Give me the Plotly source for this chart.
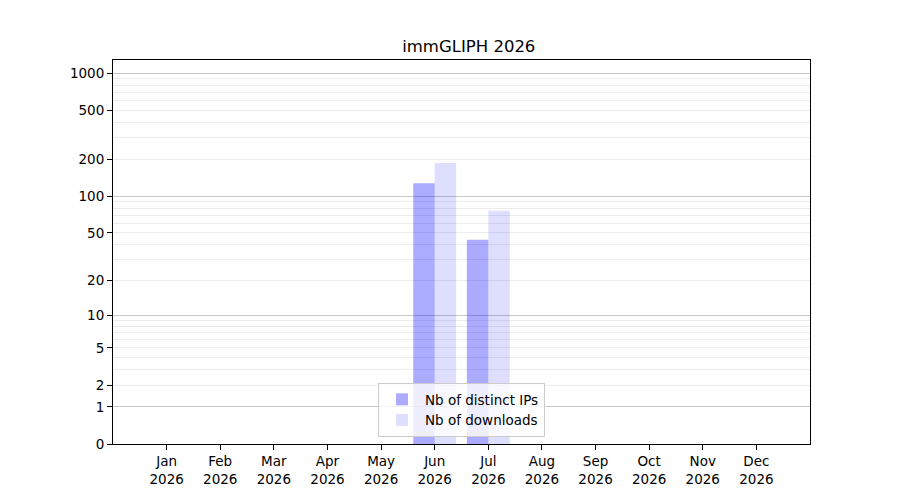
import numpy as np
import plotly.graph_objects as go

# monthly stats for immGLIPH
months = ["Jan", "Feb", "Mar", "Apr", "May", "Jun",
          "Jul", "Aug", "Sep", "Oct", "Nov", "Dec"]
year = "2026"
distinct_ips = [0, 0, 0, 0, 0, 128, 44, 0, 0, 0, 0, 0]
downloads = [0, 0, 0, 0, 0, 187, 76, 0, 0, 0, 0, 0]

# y scale is log10(1 + n)
y_labels = [0, 1, 2, 5, 10, 20, 50, 100, 200, 500, 1000]
y_major_grid = [1, 10, 100, 1000]
y_minor_grid = [v * d for d in (1, 10, 100) for v in range(2, 10)]


def tr(v):
    return np.log10(1 + np.asarray(v, dtype=float))


x = list(range(len(months)))
tick_text = [f"{m}<br>{year}" for m in months]

fig = go.Figure()
fig.add_trace(go.Bar(x=x, y=tr(distinct_ips), name="Nb of distinct IPs",
                     marker=dict(color="rgba(0,0,255,0.33)", line=dict(width=0))))
fig.add_trace(go.Bar(x=x, y=tr(downloads), name="Nb of downloads",
                     marker=dict(color="rgba(0,0,255,0.13)", line=dict(width=0))))
# invisible trace to carry the decade grid axis
fig.add_trace(go.Scatter(x=[0], y=[0], yaxis="y2", mode="markers",
                         marker=dict(opacity=0), showlegend=False, hoverinfo="skip"))

font = "DejaVu Sans, sans-serif"
y_range = [0, 3.107]

fig.update_layout(
    width=900,
    height=500,
    barmode="group",
    bargap=0.2,
    bargroupgap=0,
    paper_bgcolor="white",
    plot_bgcolor="white",
    # page body adds 8px, so margins are trimmed to keep the axes in place
    margin=dict(l=105, r=98, t=52, b=64),
    font=dict(family=font, size=13.5, color="black"),
    title=dict(text="immGLIPH 2026", x=0.512, xanchor="center",
               y=1 - 38 / 500, yref="container", yanchor="middle",
               font=dict(size=16.5)),
    xaxis=dict(
        range=[-1, 12],
        tickmode="array",
        tickvals=x,
        ticktext=tick_text,
        ticks="outside",
        ticklen=5,
        tickcolor="black",
        showgrid=False,
        zeroline=False,
        showline=True,
        linecolor="black",
        linewidth=1,
        mirror=True,
    ),
    yaxis=dict(
        range=y_range,
        tickmode="array",
        tickvals=tr(y_labels),
        ticktext=[str(v) for v in y_labels],
        ticks="outside",
        ticklen=5,
        tickcolor="black",
        showgrid=False,
        zeroline=False,
        showline=True,
        linecolor="black",
        linewidth=1,
        mirror=True,
        minor=dict(tickmode="array", tickvals=tr(y_minor_grid), ticks="",
                   showgrid=True, gridcolor="#ececec", gridwidth=1),
    ),
    yaxis2=dict(
        range=y_range,
        overlaying="y",
        side="left",
        tickmode="array",
        tickvals=tr(y_major_grid),
        showticklabels=False,
        ticks="",
        showgrid=True,
        gridcolor="#c8c8c8",
        gridwidth=1,
        zeroline=False,
        showline=False,
    ),
    legend=dict(
        x=0.5, xanchor="center",
        y=0.018, yanchor="bottom",
        bgcolor="rgba(255,255,255,0.8)",
        bordercolor="#cccccc",
        borderwidth=1,
        font=dict(size=13.5),
        itemwidth=36,
        traceorder="normal",
    ),
    showlegend=True,
)

fig.write_html("out.html")
